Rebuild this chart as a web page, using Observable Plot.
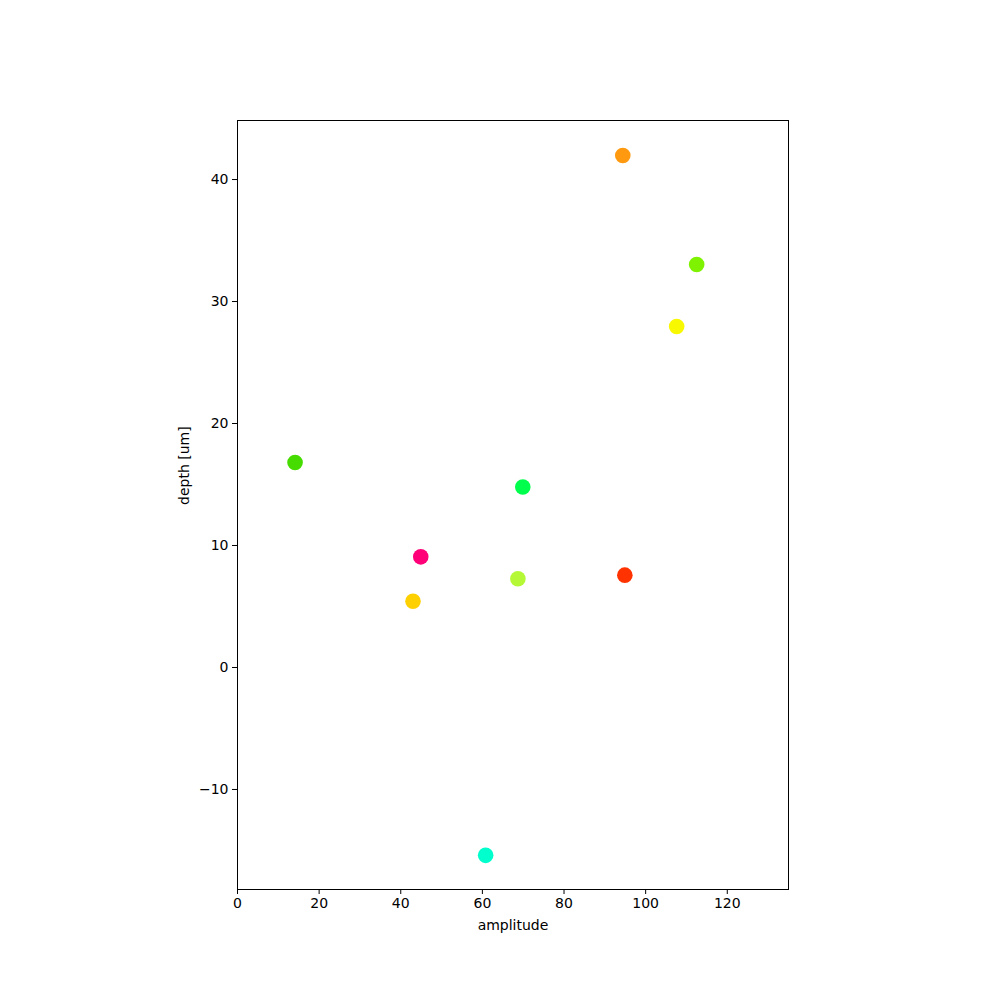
<!DOCTYPE html>
<html>
<head>
<meta charset="utf-8">
<script src="https://cdn.jsdelivr.net/npm/d3@7"></script>
<script src="https://cdn.jsdelivr.net/npm/@observablehq/plot@0.6"></script>
<style>
  html, body { margin: 0; padding: 0; background: #fff; }
</style>
</head>
<body>
<div id="chart"></div>
<script>
// Data
const ids = ["p1", "p2", "p3", "p4", "p5", "p6", "p7", "p8", "p9", "p10"];
const amplitude = [94.4, 112.5, 107.6, 14.1, 69.9, 44.9, 68.7, 94.9, 43.0, 60.8];
const depth = [41.97, 33.03, 27.95, 16.8, 14.8, 9.07, 7.27, 7.57, 5.43, -15.4];
const palette = ["#ff9a10", "#7ef200", "#f8f800", "#46dc00", "#00ff4c", "#ff0078", "#b5f836", "#ff3200", "#ffd000", "#00ffcc"];
const xTicks = [0, 20, 40, 60, 80, 100, 120];
const yTicks = [-10, 0, 10, 20, 30, 40];
const xLabel = "amplitude";
const yLabel = "depth [um]";

const data = ids.map((id, i) => ({ id, x: amplitude[i], y: depth[i] }));

const chart = Plot.plot({
  width: 1000,
  height: 1000,
  marginLeft: 237,
  marginRight: 212,
  marginTop: 120,
  marginBottom: 111,
  x: { domain: [0, 135] },
  y: { domain: [-18.2, 44.84] },
  color: { domain: ids, range: palette },
  style: { fontFamily: "DejaVu Sans", fontSize: "14px", color: "black", background: "white" },
  marks: [
    Plot.axisX({ ticks: xTicks, tickSize: 5, tickPadding: 4, label: null, tickFormat: d3.format("d"), fontSize: 14 }),
    Plot.axisY({ ticks: yTicks, tickSize: 5, tickPadding: 4, label: null, tickFormat: d => d < 0 ? "\u2212" + Math.abs(d) : String(d), fontSize: 14 }),
    Plot.dot(data, { x: "x", y: "y", r: 7.8, fill: "id", stroke: null }),
    Plot.frame({ stroke: "black", strokeWidth: 1 }),
    Plot.text([xLabel], { frameAnchor: "bottom", text: d => d, dy: 36, lineAnchor: "middle", fontSize: 14 }),
    Plot.text([yLabel], { frameAnchor: "left", text: d => d, dx: -53, rotate: -90, lineAnchor: "middle", fontSize: 14 })
  ]
});

document.getElementById("chart").appendChild(chart);
</script>
</body>
</html>
